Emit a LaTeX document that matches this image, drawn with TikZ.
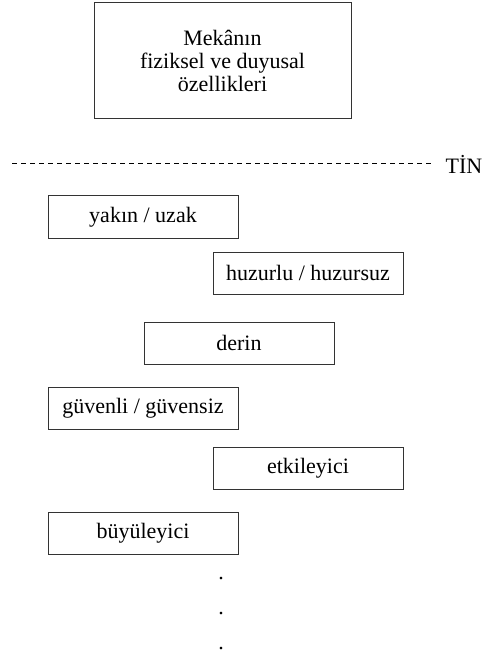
\documentclass[tikz,border=0pt]{standalone}
\usepackage{fontspec}
\setmainfont{Liberation Serif}
\usepackage{tikz}
\usetikzlibrary{positioning}
\tikzstyle{mainbox} = [rectangle, minimum width=192.75pt, minimum height=87pt, align=center, draw=black!80, line width=0.75pt, font=\fontsize{16.5}{17}\selectfont]
\tikzstyle{item} = [rectangle, minimum width=142.5pt, minimum height=31.5pt, text centered, draw=black!80, line width=0.75pt, font=\fontsize{16.5}{17}\selectfont]
\tikzstyle{dashline} = [line width=0.75pt, dash pattern=on 3.75pt off 3pt]

\begin{document}
\begin{tikzpicture}[x=0.75pt, y=-0.75pt]
        \useasboundingbox (0,0) rectangle (481,652);
        \node (mekan) [mainbox] at (222.5,61) {Mekânın\\fiziksel ve duyusal\\özellikleri};
        \node (tin) [inner sep=9pt, font=\fontsize{16.5}{17}\selectfont] at (464,164) {TİN};
        \coordinate (dstart) at (12,164);
        \node (yakin) [item] at (143,217) {yakın / uzak};
        \node (huzur) [item] at (308,273) {huzurlu / huzursuz};
        \node (derin) [item] at (239,343) {derin};
        \node (guven) [item] at (143,408) {güvenli / güvensiz};
        \node (etki) [item] at (308,468) {etkileyici};
        \node (buyu) [item] at (143,533.5) {büyüleyici};
        \node (dot1) [anchor=base, font=\fontsize{16.5}{17}\selectfont] at (221,579) {.};
        \node (dot2) [anchor=base, font=\fontsize{16.5}{17}\selectfont] at (221,614) {.};
        \node (dot3) [anchor=base, font=\fontsize{16.5}{17}\selectfont] at (221,649) {.};
        \draw [dashline] (dstart) -- (tin);

    \end{tikzpicture}
\end{document}
